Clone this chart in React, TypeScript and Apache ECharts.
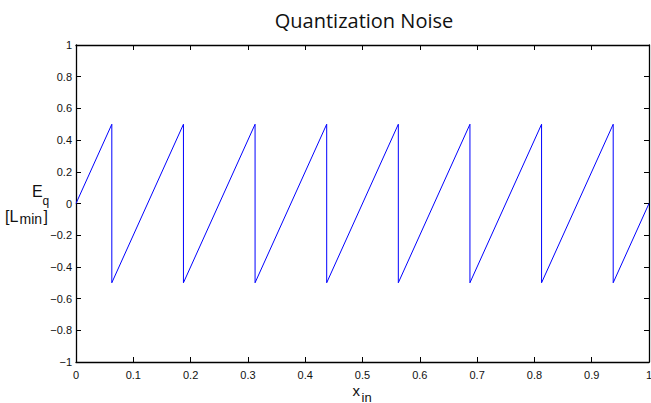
import React, { useEffect, useRef } from "react";
import * as echarts from "echarts";

const xValues = [0, 0.0625, 0.0625, 0.1875, 0.1875, 0.3125, 0.3125, 0.4375, 0.4375, 0.5625, 0.5625, 0.6875, 0.6875, 0.8125, 0.8125, 0.9375, 0.9375, 1];
const yValues = [0, 0.5, -0.5, 0.5, -0.5, 0.5, -0.5, 0.5, -0.5, 0.5, -0.5, 0.5, -0.5, 0.5, -0.5, 0.5, -0.5, 0];
const xTicks = [0, 0.1, 0.2, 0.3, 0.4, 0.5, 0.6, 0.7, 0.8, 0.9, 1];
const yTicks = [-1, -0.8, -0.6, -0.4, -0.2, 0, 0.2, 0.4, 0.6, 0.8, 1];

const fmt = (v: number) => {
  const s = String(Math.round(v * 10) / 10);
  return s.startsWith("-") ? "\u2212" + s.slice(1) : s;
};

const SANS = "Liberation Sans, Arial, Helvetica, sans-serif";
const tickFont = { fontFamily: SANS, fontSize: 11, color: "#111" };

export default function App() {
  const ref = useRef<HTMLDivElement>(null);
  useEffect(() => {
    if (!ref.current) return;
    const chart = echarts.init(ref.current, null, { renderer: "svg" });
    const axisCommon = {
      type: "value" as const,
      axisLine: { show: true, onZero: false, lineStyle: { color: "#000", width: 1.3 } },
      axisTick: { show: true, inside: true, length: 5, lineStyle: { color: "#000", width: 1 } },
      splitLine: { show: false },
    };
    const xBase = { ...axisCommon, min: xTicks[0], max: xTicks[xTicks.length - 1], interval: 0.1 };
    const yBase = { ...axisCommon, min: yTicks[0], max: yTicks[yTicks.length - 1], interval: 0.2 };
    const txt = (text: string, x: number, y: number, size: number) => ({
      type: "text",
      x,
      y,
      style: { text, fontFamily: SANS, fontSize: size, fill: "#111", align: "left", verticalAlign: "middle" },
    });
    chart.setOption({
      animation: false,
      backgroundColor: "#fff",
      title: {
        text: "Quantization Noise",
        left: 359,
        top: 5,
        textAlign: "center",
        textStyle: { fontFamily: "Open Sans, Lato, sans-serif", fontSize: 20, fontWeight: "normal", color: "#111" },
      },
      grid: { left: 76, right: 2, top: 45, bottom: 41, containLabel: false, outerBoundsMode: "none" },
      xAxis: [
        {
          ...xBase,
          position: "bottom",
          axisLabel: { ...tickFont, margin: 7, formatter: (v: number) => fmt(v), showMinLabel: true, showMaxLabel: true },
        },
        { ...xBase, position: "top", axisLabel: { show: false } },
      ],
      yAxis: [
        {
          ...yBase,
          position: "left",
          axisLabel: { ...tickFont, margin: 4, formatter: (v: number) => fmt(v), showMinLabel: true, showMaxLabel: true },
        },
        { ...yBase, position: "right", axisLabel: { show: false } },
      ],
      series: [
        {
          type: "line",
          data: xValues.map((x, i) => [x, yValues[i]]),
          showSymbol: false,
          symbol: "none",
          lineStyle: { color: "#0000ff", width: 1 },
          silent: true,
        },
      ],
      graphic: [
        txt("E", 32, 191.5, 16),
        txt("q", 42.5, 201, 12),
        txt("[L", 5, 216.5, 16),
        txt("min", 19.5, 218.5, 14),
        txt("]", 43.5, 216.5, 16),
        txt("x", 352.5, 390, 15),
        txt("in", 361.5, 397, 13),
      ],
    });
    return () => chart.dispose();
  }, []);
  return <div ref={ref} style={{ position: "fixed", left: 0, top: 0, width: 651, height: 403 }} />;
}
